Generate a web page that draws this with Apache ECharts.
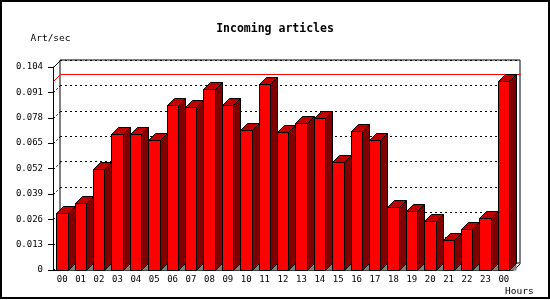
<!DOCTYPE html>
<html>
<head>
<meta charset="utf-8">
<title>Incoming articles</title>
<script src="https://cdn.jsdelivr.net/npm/echarts@6/dist/echarts.min.js"></script>
<style>
html, body { margin: 0; padding: 0; background: #fff; }
#chart { width: 550px; height: 300px; }
</style>
</head>
<body>
<div id="chart"></div>
<script>
// data
const hours = ['00', '01', '02', '03', '04', '05', '06', '07', '08', '09', '10', '11',
  '12', '13', '14', '15', '16', '17', '18', '19', '20', '21', '22', '23', '00'];
const articles = [0.0294, 0.0342, 0.0517, 0.0697, 0.0697, 0.0666, 0.0844, 0.0833, 0.0926,
  0.0844, 0.0716, 0.0952, 0.0705, 0.0751, 0.0777, 0.0552, 0.0712, 0.0666, 0.0321, 0.0304,
  0.0249, 0.0152, 0.0208, 0.0265, 0.0968];
const yTickLabels = ['0', '0.013', '0.026', '0.039', '0.052', '0.065', '0.078', '0.091', '0.104'];
const yStep = 0.013;
const yMax = 0.104;

const DEPTH = 7; // 3d offset in px
const FONT = 'DejaVu Sans Mono';
const peak = Math.max(...articles);

const chart = echarts.init(document.getElementById('chart'));

function renderBar(params, api) {
  const i = api.value(0);
  const band = api.size([1, 0])[0];
  const base = api.coord([i, 0]);
  const top = api.coord([i, api.value(1)]);
  const xl = Math.round(base[0] - band * 0.33) + 0.5;
  const xr = Math.round(base[0] + band * 0.29) + 0.5;
  const by = Math.round(base[1]) + 0.5;
  const ty = Math.round(top[1]) + 0.5;
  const D = DEPTH;
  return {
    type: 'group',
    children: [
      { type: 'polygon', shape: { points: [[xr, by], [xr + D, by - D], [xr + D, by]] },
        style: { fill: '#808080' } },
      { type: 'rect', shape: { x: xl, y: ty, width: xr - xl, height: by - ty },
        style: { fill: '#ff0000', stroke: '#000', lineWidth: 1 } },
      { type: 'polygon', shape: { points: [[xr, ty], [xr + D, ty - D], [xr + D, by - D], [xr, by]] },
        style: { fill: '#800000', stroke: '#000', lineWidth: 1 } },
      { type: 'polygon', shape: { points: [[xl, ty], [xl + D, ty - D], [xr + D, ty - D], [xr, ty]] },
        style: { fill: '#c00000', stroke: '#000', lineWidth: 1 } }
    ]
  };
}

function renderFrame(params, api) {
  const cs = params.coordSys;
  const left = Math.round(cs.x) + 0.5;
  const right = Math.round(cs.x + cs.width) + 0.5;
  const bottom = Math.round(cs.y + cs.height) + 0.5;
  const D = DEPTH;
  const children = [];
  yTickLabels.forEach((_, k) => {
    const y = Math.round(api.coord([0, k * yStep])[1]) + 0.5;
    children.push({
      type: 'line',
      shape: { x1: left, y1: y, x2: left + D, y2: y - D },
      style: { stroke: '#000', lineWidth: 1, lineDash: k === yTickLabels.length - 1 ? null : [2, 2] }
    });
  });
  const py = Math.round(api.coord([0, peak])[1]) + 0.5;
  children.push({
    type: 'polyline',
    shape: { points: [[left, py], [left + D, py - D], [right + D, py - D]] },
    style: { stroke: '#ff0000', fill: 'transparent', lineWidth: 1 }
  });
  children.push({
    type: 'line',
    shape: { x1: right, y1: bottom, x2: right + D, y2: bottom - D },
    style: { stroke: '#000', lineWidth: 1 }
  });
  return { type: 'group', children };
}

const option = {
  animation: false,
  backgroundColor: '#fff',
  title: {
    text: 'Incoming articles',
    left: 'center',
    top: 18,
    textStyle: { fontFamily: FONT, fontSize: 11.5, fontWeight: 'bold', color: '#000' }
  },
  graphic: [{
    type: 'rect',
    silent: true,
    shape: { x: 1, y: 1, width: 548, height: 297 },
    style: { fill: 'transparent', stroke: '#000', lineWidth: 2 }
  }],
  grid: [
    { left: 53, right: 37, top: 67, bottom: 30 },
    { left: 60, right: 30, top: 60, bottom: 37, show: true, borderColor: '#000', borderWidth: 1 }
  ],
  xAxis: [
    {
      gridIndex: 0,
      type: 'category',
      data: hours,
      boundaryGap: true,
      axisLine: { lineStyle: { color: '#000' } },
      axisTick: { length: 4, lineStyle: { color: '#000' } },
      axisLabel: { color: '#000', fontFamily: FONT, fontSize: 9, margin: 5, interval: 0 },
      name: 'Hours',
      nameLocation: 'end',
      nameGap: -8,
      nameTextStyle: { color: '#000', fontFamily: FONT, fontSize: 9.5, align: 'left', verticalAlign: 'top', padding: [17, 0, 0, 0] }
    },
    { gridIndex: 1, type: 'category', data: hours, show: false }
  ],
  yAxis: [
    {
      gridIndex: 0,
      type: 'value',
      min: 0,
      max: yMax,
      interval: yStep,
      axisLine: { show: true, lineStyle: { color: '#000' } },
      axisTick: { show: true, length: 5, lineStyle: { color: '#000' } },
      axisLabel: {
        color: '#000', fontFamily: FONT, fontSize: 9, margin: 10,
        formatter: (v) => yTickLabels[Math.round(v / yStep)]
      },
      splitLine: { show: false },
      name: 'Art/sec',
      nameLocation: 'end',
      nameGap: 28,
      nameTextStyle: { color: '#000', fontFamily: FONT, fontSize: 9.5, align: 'center', verticalAlign: 'middle', padding: [0, 5, 0, 0] }
    },
    {
      gridIndex: 1,
      type: 'value',
      min: 0,
      max: yMax,
      interval: yStep,
      axisLabel: { show: false },
      axisLine: { show: false },
      axisTick: { show: false },
      splitLine: { show: true, lineStyle: { color: '#000', type: [2, 3] } }
    }
  ],
  series: [
    {
      type: 'custom',
      xAxisIndex: 0,
      yAxisIndex: 0,
      data: [[0, 0]],
      renderItem: renderFrame,
      silent: true
    },
    {
      type: 'custom',
      xAxisIndex: 0,
      yAxisIndex: 0,
      encode: { x: 0, y: 1 },
      data: articles.map((v, i) => [i, v]),
      renderItem: renderBar
    }
  ]
};

chart.setOption(option);
</script>
</body>
</html>
